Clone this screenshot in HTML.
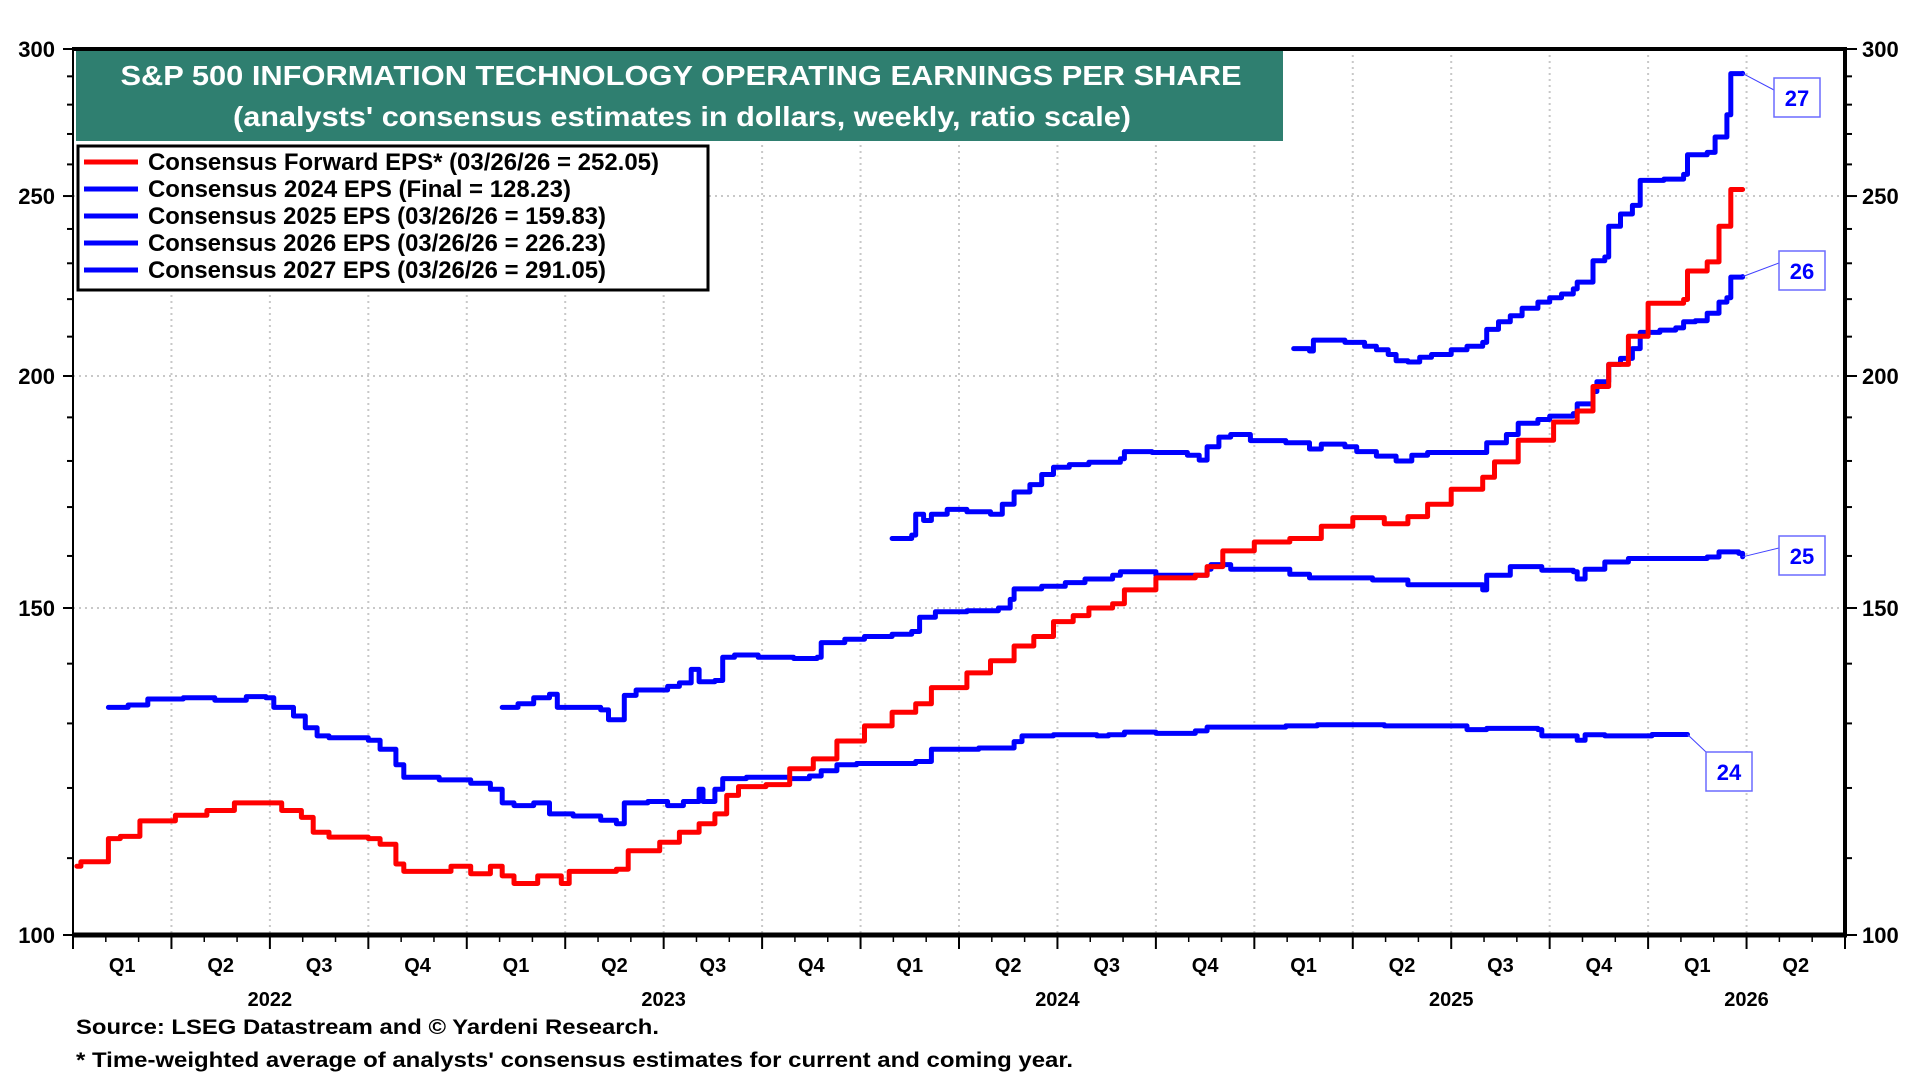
<!DOCTYPE html>
<html><head><meta charset="utf-8"><style>
html,body{margin:0;padding:0;background:#fff;}
svg{display:block;font-family:"Liberation Sans",Arial,sans-serif;font-weight:bold;}
</style></head><body>
<svg id="chart" width="1920" height="1080" viewBox="0 0 1920 1080" xmlns="http://www.w3.org/2000/svg">
<g id="grid"></g>
<g id="axes"></g>
<g id="series"></g>
<rect x="73" y="49" width="1772" height="886" fill="none" stroke="#000" stroke-width="2"/>
<line x1="72" y1="49" x2="1846" y2="49" stroke="#000" stroke-width="4"/>
<line x1="1845" y1="47" x2="1845" y2="937" stroke="#000" stroke-width="4"/>
<line x1="72" y1="935" x2="1847" y2="935" stroke="#000" stroke-width="5"/>
<g>
<rect x="76" y="51" width="1207" height="90" fill="#2f7f70"/>
<text x="681" y="85" text-anchor="middle" fill="#fff" font-size="28" textLength="1121" lengthAdjust="spacingAndGlyphs">S&amp;P 500 INFORMATION TECHNOLOGY OPERATING EARNINGS PER SHARE</text>
<text x="682" y="126" text-anchor="middle" fill="#fff" font-size="28" textLength="898" lengthAdjust="spacingAndGlyphs">(analysts' consensus estimates in dollars, weekly, ratio scale)</text>
</g>
<g>
<rect x="78" y="146" width="630" height="144" fill="#fff" stroke="#000" stroke-width="3"/>
<g id="legend-items"></g>
</g>
<g id="callouts"></g>
<text x="76" y="1034" font-size="21" textLength="583" lengthAdjust="spacingAndGlyphs">Source: LSEG Datastream and © Yardeni Research.</text>
<text x="76" y="1067" font-size="21" textLength="997" lengthAdjust="spacingAndGlyphs">* Time-weighted average of analysts' consensus estimates for current and coming year.</text>
</svg>
<script>
// ---- data ----
const fwdT = [2022.01,2022.02,2022.09,2022.12,2022.17,2022.26,2022.34,2022.41,2022.48,2022.53,2022.58,2022.61,2022.65,2022.75,2022.78,2022.82,2022.84,2022.92,2022.96,2023.01,2023.06,2023.09,2023.12,2023.18,2023.24,2023.26,2023.34,2023.38,2023.41,2023.49,2023.54,2023.59,2023.63,2023.66,2023.69,2023.76,2023.82,2023.88,2023.94,2024.01,2024.08,2024.14,2024.18,2024.27,2024.33,2024.39,2024.44,2024.49,2024.54,2024.58,2024.64,2024.67,2024.75,2024.85,2024.88,2024.92,2025.00,2025.09,2025.17,2025.25,2025.33,2025.39,2025.44,2025.50,2025.58,2025.61,2025.67,2025.76,2025.82,2025.86,2025.90,2025.95,2026.00,2026.09,2026.10,2026.15,2026.18,2026.21,2026.24];
const fwdV = [108.9,109.5,112.7,113.0,115.2,116.0,116.7,117.8,117.8,116.7,115.7,113.6,112.9,112.7,111.9,109.2,108.2,108.2,108.9,107.9,108.9,107.6,106.6,107.6,106.6,108.2,108.2,108.5,111.0,112.2,113.6,114.8,116.2,118.9,120.2,120.5,122.9,124.4,127.2,129.6,131.8,133.2,135.9,138.4,140.5,143.1,144.8,147.5,148.6,150.0,150.8,153.4,155.7,156.2,157.9,161.0,162.8,163.5,166.0,167.8,166.5,168.0,170.6,173.8,176.4,179.8,184.7,188.9,191.5,197.4,202.9,210.1,218.9,219.9,227.8,230.4,240.8,252.05,252.05];
const e24T = [2022.09,2022.14,2022.19,2022.28,2022.36,2022.44,2022.49,2022.51,2022.56,2022.59,2022.62,2022.65,2022.75,2022.78,2022.82,2022.84,2022.93,2023.01,2023.06,2023.09,2023.12,2023.17,2023.21,2023.27,2023.34,2023.38,2023.40,2023.46,2023.51,2023.55,2023.59,2023.60,2023.63,2023.65,2023.71,2023.82,2023.87,2023.90,2023.94,2023.99,2024.14,2024.18,2024.30,2024.39,2024.41,2024.49,2024.60,2024.63,2024.67,2024.75,2024.85,2024.88,2024.92,2025.08,2025.16,2025.33,2025.51,2025.54,2025.59,2025.72,2025.73,2025.81,2025.82,2025.84,2025.89,2025.98,2026.01,2026.10];
const e24V = [132.6,133.0,134.0,134.2,133.8,134.4,134.2,132.6,131.2,129.3,128.0,127.7,127.3,125.9,123.5,121.6,121.2,120.7,119.8,117.8,117.4,117.8,116.2,115.9,115.3,114.8,117.8,118.0,117.4,118.0,119.8,118.0,119.8,121.4,121.6,121.4,121.8,122.6,123.5,123.7,124.0,125.9,126.1,127.1,128.0,128.2,128.0,128.2,128.6,128.4,128.8,129.4,129.4,129.6,129.8,129.6,129.6,129.0,129.2,129.0,128.0,128.0,127.3,128.2,128.0,128.0,128.23,128.23];
const e25T = [2023.09,2023.13,2023.17,2023.21,2023.23,2023.34,2023.36,2023.39,2023.40,2023.43,2023.51,2023.54,2023.57,2023.59,2023.63,2023.65,2023.68,2023.74,2023.83,2023.89,2023.90,2023.96,2024.01,2024.08,2024.13,2024.15,2024.19,2024.27,2024.35,2024.38,2024.39,2024.46,2024.52,2024.57,2024.64,2024.66,2024.71,2024.75,2024.85,2024.88,2024.89,2024.94,2025.09,2025.14,2025.25,2025.30,2025.39,2025.56,2025.58,2025.59,2025.65,2025.73,2025.81,2025.82,2025.84,2025.89,2025.95,2026.15,2026.18,2026.23,2026.24];
const e25V = [132.6,133.2,134.2,134.8,132.6,132.2,130.6,130.6,134.6,135.5,136.1,136.7,139.0,136.9,137.1,141.1,141.5,141.1,140.9,141.1,143.7,144.3,144.8,145.2,145.7,148.3,149.3,149.5,150.0,151.6,153.6,154.1,154.8,155.5,156.2,156.9,156.9,156.2,156.2,157.4,158.3,157.4,156.4,155.7,155.7,155.3,154.4,154.4,153.4,156.2,157.9,157.2,156.9,155.5,157.4,158.8,159.5,159.8,160.8,160.5,159.83];
const e26T = [2024.08,2024.13,2024.14,2024.16,2024.18,2024.22,2024.27,2024.33,2024.36,2024.39,2024.43,2024.46,2024.49,2024.53,2024.58,2024.66,2024.67,2024.74,2024.83,2024.86,2024.88,2024.91,2024.94,2024.99,2025.08,2025.14,2025.17,2025.23,2025.26,2025.31,2025.36,2025.40,2025.44,2025.56,2025.59,2025.64,2025.67,2025.72,2025.75,2025.81,2025.82,2025.86,2025.87,2025.90,2025.93,2025.96,2025.98,2026.03,2026.07,2026.09,2026.12,2026.15,2026.18,2026.20,2026.21,2026.24];
const e26V = [163.5,164.2,168.5,167.2,168.5,169.5,169.0,168.5,170.6,173.2,174.8,177.0,178.6,179.2,179.7,180.5,182.1,181.9,181.3,180.2,183.2,185.4,186.0,184.6,184.1,182.7,183.8,183.2,182.1,181.1,180.0,181.3,181.9,181.9,184.1,186.0,188.6,189.5,190.3,190.9,193.2,196.2,198.6,202.9,204.4,206.9,211.1,211.7,212.3,213.9,214.2,216.2,219.2,220.4,226.1,226.23];
const e27T = [2025.10,2025.14,2025.15,2025.19,2025.23,2025.28,2025.31,2025.34,2025.36,2025.39,2025.42,2025.45,2025.50,2025.54,2025.58,2025.59,2025.62,2025.65,2025.68,2025.72,2025.75,2025.78,2025.81,2025.82,2025.86,2025.89,2025.90,2025.93,2025.96,2025.98,2026.04,2026.09,2026.10,2026.15,2026.17,2026.20,2026.21,2026.24];
const e27V = [206.9,206.3,209.1,209.1,208.5,207.5,206.6,205.4,203.8,203.5,204.7,205.4,206.6,207.5,208.5,211.9,213.9,215.5,217.5,219.2,220.4,221.4,222.8,224.7,230.7,231.8,240.8,244.5,247.1,254.9,255.3,256.8,263.1,263.9,269.0,276.5,291.0,291.05];
const yTicks = [100,150,200,250,300];
const quarterLabels = ["Q1","Q2","Q3","Q4"];
const yearLabels = [2022,2023,2024,2025,2026];
const legendLabels = ["Consensus Forward EPS* (03/26/26 = 252.05)","Consensus 2024 EPS (Final = 128.23)","Consensus 2025 EPS (03/26/26 = 159.83)","Consensus 2026 EPS (03/26/26 = 226.23)","Consensus 2027 EPS (03/26/26 = 291.05)"];
const calloutLabels = ["27","26","25","24"];

// ---- scales ----
const L=73,R=1845,T=49,B=935,T0=2022,T1=2026.5;
const xS=t=>L+(t-T0)*(R-L)/(T1-T0);
const yS=v=>B-Math.log(v/100)*(B-T)/Math.log(3);
const NS="http://www.w3.org/2000/svg";
function mk(tag,attrs,parent){const e=document.createElementNS(NS,tag);for(const k in attrs)e.setAttribute(k,attrs[k]);parent.appendChild(e);return e;}
const grid=document.getElementById('grid'),axes=document.getElementById('axes'),ser=document.getElementById('series');

yTicks.forEach(v=>{
  const y=yS(v);
  if(v>100&&v<300){const g=mk('line',{x1:L,x2:R,y1:y,y2:y,stroke:'#c8c8c8','stroke-width':2,'stroke-dasharray':'2,4'},grid);
  
  }
  const tl=mk('text',{x:L-18,y:y+8,'text-anchor':'end','font-size':22},axes);tl.textContent=v;
  
  
  const tr=mk('text',{x:R+17,y:y+8,'font-size':22},axes);tr.textContent=v;
  
  
});
for(let v=100;v<=300;v+=10){
  const y=yS(v),big=(v%50===0);
  const a=mk('line',{x1:L-(big?10:6),x2:L,y1:y,y2:y,stroke:'#000','stroke-width':2},axes);
  
  
  const b=mk('line',{x1:R,x2:R+(big?12:7),y1:y,y2:y,stroke:'#000','stroke-width':2},axes);
  
  
}
for(let q=0;q<=18;q++){
  const x=xS(T0+q/4);
  if(q>0&&q<18){const g=mk('line',{x1:x,x2:x,y1:T,y2:B,stroke:'#c8c8c8','stroke-width':2,'stroke-dasharray':'2,4'},grid);
  
  }
  const tk=mk('line',{x1:x,x2:x,y1:B,y2:B+14,stroke:'#000','stroke-width':2},axes);
  
  
  if(q<18){
    const ql=mk('text',{x:xS(T0+q/4+0.125),y:972,'text-anchor':'middle','font-size':20},axes);ql.textContent=quarterLabels[q%4];
    
    
  }
}
for(let m=0;m<54;m++){if(m%3===0)continue;const x=xS(T0+m/12);
  const tk=mk('line',{x1:x,x2:x,y1:B,y2:B+7,stroke:'#000','stroke-width':1.5},axes);
  
  }
yearLabels.forEach(yr=>{
  const cx = yr===2026 ? xS(2026.25) : xS(yr+0.5);
  const t=mk('text',{x:cx,y:1006,'text-anchor':'middle','font-size':20},axes);t.textContent=yr;
  
  
});

function stepPath(ts,vs){let d='M'+xS(ts[0]).toFixed(1)+','+yS(vs[0]).toFixed(1);
  for(let i=1;i<ts.length;i++){d+=' H'+xS(ts[i]).toFixed(1)+' V'+yS(vs[i]).toFixed(1);}return d;}
const seriesList=[[e24T,e24V,'#0000ff','series-2024-eps'],[e25T,e25V,'#0000ff','series-2025-eps'],[e26T,e26V,'#0000ff','series-2026-eps'],[e27T,e27V,'#0000ff','series-2027-eps'],[fwdT,fwdV,'#ff0000','series-forward-eps']];
seriesList.forEach(s=>{
  const p=mk('path',{d:stepPath(s[0],s[1]),fill:'none',stroke:s[2],'stroke-width':5,'stroke-linejoin':'round','stroke-linecap':'round'},ser);
  
  
});

const lg=document.getElementById('legend-items');
const lgColors=['#ff0000','#0000ff','#0000ff','#0000ff','#0000ff'];
const lgWidths=[511,423,458,458,458];
legendLabels.forEach((lab,i)=>{
  const y=162+i*27;
  const g=mk('g',{},lg);
  
  
  mk('line',{x1:84,x2:138,y1:y,y2:y,stroke:lgColors[i],'stroke-width':5},g);
  const t=mk('text',{x:148,y:y+8,'font-size':24,textLength:lgWidths[i],lengthAdjust:'spacingAndGlyphs'},g);t.textContent=lab;
});

const co=document.getElementById('callouts');
const calloutAnchors=[[e27T,e27V],[e26T,e26V],[e25T,e25V],[e24T,e24V]];
const boxes=[[1774,78],[1779,251],[1779,536],[1706,752]];
calloutLabels.forEach((lab,i)=>{
  const ts=calloutAnchors[i][0],vs=calloutAnchors[i][1];
  const ax=xS(ts[ts.length-1]),ay=yS(vs[vs.length-1]);
  const bx=boxes[i][0],by=boxes[i][1];
  const g=mk('g',{},co);
  
  
  mk('line',{x1:ax,y1:ay,x2:bx,y2:(i===3?by:by+12),stroke:'#4040ff','stroke-width':1},g);
  mk('rect',{x:bx,y:by,width:46,height:39,fill:'#fff',stroke:'#6b6bff','stroke-width':1.5},g);
  const t=mk('text',{x:bx+23,y:by+28,'text-anchor':'middle','font-size':22,fill:'#0000ff'},g);t.textContent=lab;
});
</script>
</body></html>
